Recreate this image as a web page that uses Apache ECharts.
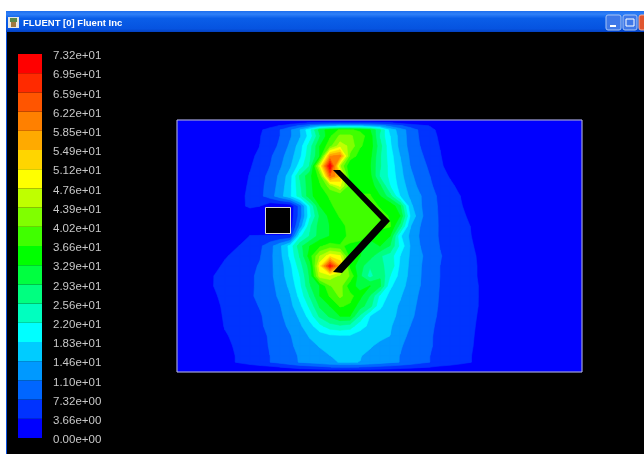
<!DOCTYPE html>
<html>
<head>
<meta charset="utf-8">
<title>FLUENT [0] Fluent Inc</title>
<style>
    html, body { margin: 0; padding: 0; background: #000; }
    #chart { width: 644px; height: 454px; }
</style>
<script src="https://cdn.jsdelivr.net/npm/echarts@6/dist/echarts.min.js"></script>
</head>
<body>
<div id="chart"></div>
<script>
// colour scale, bottom band first
var bandColors = [
    '#0000ff', '#0033ff', '#0066ff', '#0099ff', '#00ccff',
    '#00ffff', '#00ffbf', '#00ff80', '#00ff40', '#00ff00',
    '#40ff00', '#80ff00', '#bfff00', '#ffff00', '#ffd500',
    '#ffaa00', '#ff8000', '#ff5500', '#ff2a00', '#ff0000'
];
var levelValues = [
    0, 3.66, 7.32, 10.98, 14.64, 18.3, 21.96, 25.62, 29.28, 32.94, 36.6,
    40.26, 43.92, 47.58, 51.24, 54.9, 58.56, 62.22, 65.88, 69.54, 73.2
];
var levelLabels = [
    '0.00e+00', '3.66e+00', '7.32e+00', '1.10e+01', '1.46e+01', '1.83e+01', '2.20e+01',
    '2.56e+01', '2.93e+01', '3.29e+01', '3.66e+01', '4.02e+01', '4.39e+01', '4.76e+01',
    '5.12e+01', '5.49e+01', '5.85e+01', '6.22e+01', '6.59e+01', '6.95e+01', '7.32e+01'
];

// sample stations of the field
var stationX = [177, 210, 225, 240, 250, 260, 270, 280, 290, 300, 310, 320, 330, 340, 350, 360, 370, 380, 390, 400, 410, 420, 430, 440, 450, 460, 470, 480, 490, 582];
var stationY = [120, 123, 126, 130, 136, 146, 156, 166, 176, 186, 196, 206, 216, 226, 236, 246, 256, 266, 276, 286, 296, 306, 316, 326, 336, 346, 356, 362, 367, 372];

// velocity, one row per stationY
var velocity = [
    [0,0,0,0,0,0,0,0,0,0,0,0,0,0,0,0,0,0,0,0,0,0,0,0,0,0,0,0,0,0],
    [0,0,0,0,0,0,0,1,2,3,4,4.5,5,5,5,5,5,4.5,4,3,2,1,0,0,0,0,0,0,0,0],
    [0,0,0,0,0,1,2.5,4,6,8,11,13,14,15,15,15,14,12.5,10,8,6,5,3.5,1,0,0,0,0,0,0],
    [0,0,0,0,1.1,3.1,5.2,7.3,10.4,14.6,21,31,35,37,37,36,33,26,17,13,9.5,6.7,4.7,2.7,0.7,0,0,0,0,0],
    [0,0,0,0,1.5,3.5,5.4,7.3,10.4,14.2,20,29,36,41,41,38,35,25,18.3,13.3,9.6,6.9,5,3.1,1,0,0,0,0,0],
    [0,0,0,0,1.7,3.7,5.7,8,11.7,16.4,24,33,39,46,43,37,35,27,19,13.4,9.9,7.3,5.4,3.5,1.5,0,0,0,0,0],
    [0,0,0,0.7,2.7,4.7,6.7,9.5,13,17.4,25,33,58,60,39,35,34,26,20,14.6,10.5,8,5.9,3.9,1.9,0,0,0,0,0],
    [0,0,0,1.3,3.3,5.3,7.3,10.4,13.9,20,26,48,73,44,33,33,33,26,20.5,15.5,11,8.8,6.6,4.3,2.3,0.3,0,0,0,0],
    [0,0,0,2.1,3.9,6,8.3,11.8,16.5,26,32,38,62,55,33,34,34,25,21,16,11.8,9.4,7.3,5.3,3.3,1.3,0,0,0,0],
    [0,0,0,2.3,4.3,6.3,8.8,12.4,17.2,25,32,36,42,48,38,35,35,30,22,16.8,13,9.9,7.8,6,4.5,2.7,0.7,0,0,0],
    [0,0,0,2.7,4.6,6.4,9.2,13.2,17.5,24,32,35,37,37,37,37,37,33,27,18.3,14,11.3,8.6,6.6,5.1,3.7,1.7,0,0,0],
    [0,0,0,3,4.2,3.7,1,0.5,0.5,9,22,33,36,38,39,39,39,36,36,30,15.8,11.4,8.8,6.8,5.4,4.1,2.3,0.3,0,0],
    [0,0,0,1,1.5,0.5,0,0,1,9,21,30,34,37,39,40,39,39,36,33,18.3,11.8,9,6.9,5.7,4.5,3.1,1,0,0],
    [0,0,0,0,0,0,0,0,1,12,25,31,33,35,38,40,39,38,37,28,15,11,8.8,7,5.9,4.8,3.66,1.7,0,0],
    [0,0,0,1.5,3.8,3.9,3.9,3.9,4,21,26,31,33,34,38,39,35,34,33,19,13.9,10.6,8.7,7,6,4.9,3.9,2.1,0.1,0],
    [0,0,1,3.9,5,6.6,9.6,13.8,19.5,28,33,36,38,37,36,34,30,33,29,21,14.6,11,9.2,7.2,6.2,5.2,4.2,2.7,0.7,0],
    [0,0.3,3.3,5,6,7.1,10,13.5,19,26,35,44,50,48,35,33,31,26,24,18.3,14.3,11.6,9.4,7.5,6.5,5.5,4.5,3.1,1,0],
    [0,2.1,4.3,5.7,6.6,7.6,10.1,13,17.2,24,31,50,70,55,35,31,26,26,25,17.6,14,11.3,9.1,7.3,6.4,5.4,4.5,3.3,1.3,0],
    [0,3.3,4.7,5.9,6.8,8,10.1,12.8,16.7,22,30,46,46,43,40,30,24,29,22,16.9,13.8,11.2,9.1,7.3,6.4,5.4,4.5,3.3,1.3,0],
    [0,3.3,4.8,6,6.8,8,9.8,12.2,15.5,21,29,33,40,42,34,32,33,30,19,16,13.4,11,9,7.2,6.3,5.4,4.5,3.5,1.5,0],
    [0,2.7,4.6,6,6.9,8,9.7,11.6,14.3,19.5,26,33,37,41,38,34,29,21,17.2,15,12.7,10.5,8.7,7.1,6.3,5.4,4.5,3.5,1.5,0],
    [0,2.1,4.3,5.6,6.5,7.5,9.2,10.8,13.5,17.4,23,30,33,37,36,31,27,19,16.1,14.2,12.1,10.2,8.5,7,6.1,5.3,4.4,3.5,1.5,0],
    [0,1.7,4.1,5.4,6.2,7,8.5,10.3,12.6,15.4,20,26.5,30,33,33,25,18.3,16.9,15.6,13.9,11.7,9.9,8.1,6.9,6.1,5.2,4.4,3.3,1.3,0],
    [0,1.1,3.9,5.1,5.9,6.9,8.1,9.8,11.7,14.1,17,21,24,25,24,19.5,17.6,16.3,15,13.1,11,9.4,7.8,6.7,5.9,5,4.3,3.1,1,0],
    [0,0.3,3.3,4.8,5.6,6.6,7.6,9.1,10.7,12.9,15,16.5,17.5,17.8,17.8,17,16.3,15.5,14.6,12.2,10.3,8.9,7.6,6.6,5.8,5,4.2,2.9,0.9,0],
    [0,0,2.7,4.6,5.5,6.5,7.5,8.9,10.4,12,13.6,14.9,15.5,16,16,15.7,15,13.8,12.9,11.3,10,8.8,7.6,6.5,5.8,4.9,4.1,2.7,0.7,0],
    [0,0,2.1,4.4,5.3,6.3,7.3,8.7,10,11.3,12.4,13.5,14.6,15,15,14.8,13.8,12.9,12,10.9,9.7,8.5,7.3,6.5,5.7,4.8,3.9,2.3,0.3,0],
    [0,0,2.1,4.4,5.3,6.3,7.3,8.6,10,11.2,12.2,13.1,14.1,14.8,14.8,14.6,13.7,12.8,11.8,10.9,9.7,8.5,7.3,6.5,5.7,4.8,3.9,2.3,0.3,0],
    [0,0,0,1,2,2.5,3,3.7,4.5,5.5,6,6.5,7.3,7.5,7.5,7.3,7,6.5,6,5.3,4.8,4.2,3.7,3,2.5,2,1.5,0,0,0],
    [0,0,0,0,0,0,0,0,0,0,0,0,0,0,0,0,0,0,0,0,0,0,0,0,0,0,0,0,0,0]
];

// solid parts inside the domain
var baffleOutline = [[333, 170], [340, 170], [390, 221], [342, 273], [333, 272], [381, 220]];
var blockOutline = [[265.5, 207.5], [290.5, 207.5], [290.5, 233.5], [265.5, 233.5]];
var domainOutline = [[177, 120], [582, 120], [582, 372], [177, 372]];

// keep the part of a cell where the value is at or over the level
function clipCell(corners, level) {
    var out = [];
    for (var i = 0; i < corners.length; i++) {
        var a = corners[i];
        var b = corners[(i + 1) % corners.length];
        if (a[2] >= level) {
            out.push([a[0], a[1]]);
        }
        if ((a[2] >= level) !== (b[2] >= level)) {
            var t = (level - a[2]) / (b[2] - a[2]);
            out.push([a[0] + t * (b[0] - a[0]), a[1] + t * (b[1] - a[1])]);
        }
    }
    return out;
}

var contourCells = [];
for (var k = 0; k < bandColors.length; k++) {
    for (var r = 0; r < stationY.length - 1; r++) {
        for (var c = 0; c < stationX.length - 1; c++) {
            var corners = [
                [stationX[c], stationY[r], velocity[r][c]],
                [stationX[c + 1], stationY[r], velocity[r][c + 1]],
                [stationX[c + 1], stationY[r + 1], velocity[r + 1][c + 1]],
                [stationX[c], stationY[r + 1], velocity[r + 1][c]]
            ];
            var poly = clipCell(corners, levelValues[k]);
            if (poly.length > 2) {
                contourCells.push({value: [k], poly: poly});
            }
        }
    }
}

var chart = echarts.init(document.getElementById('chart'), null, {renderer: 'canvas'});

function renderContour(params, api) {
    var cell = contourCells[params.dataIndex];
    var color = bandColors[cell.value[0]];
    return {
        type: 'polygon',
        shape: {points: cell.poly.map(function (p) { return api.coord(p); })},
        style: {fill: color, stroke: color, lineWidth: 0.6}
    };
}

function renderOutline(params, api) {
    var item = params.dataIndex === 0 ? baffleOutline : blockOutline;
    return {
        type: 'polygon',
        shape: {points: item.map(function (p) { return api.coord(p); })},
        style: {fill: '#000', stroke: params.dataIndex === 0 ? '#000' : '#d8d8d8', lineWidth: params.dataIndex === 0 ? 0 : 1}
    };
}

function renderFrame(params, api) {
    return {
        type: 'polygon',
        shape: {points: domainOutline.map(function (p) { return api.coord(p); })},
        style: {fill: 'none', stroke: '#c0c0c0', lineWidth: 1}
    };
}

function renderBand(params, api) {
    var k = params.dataIndex;
    var top = api.coord([1, levelValues[k + 1]]);
    var bottom = api.coord([0, levelValues[k]]);
    return {
        type: 'rect',
        shape: {x: bottom[0], y: top[1], width: top[0] - bottom[0], height: bottom[1] - top[1]},
        style: {fill: bandColors[k]}
    };
}

var option = {
    animation: false,
    backgroundColor: '#000',
    grid: [
        {left: 177, top: 120, width: 405, height: 252},
        {left: 18, top: 54, width: 24, height: 384}
    ],
    xAxis: [
        {type: 'value', gridIndex: 0, min: 177, max: 582, show: false},
        {type: 'value', gridIndex: 1, min: 0, max: 1, show: false}
    ],
    yAxis: [
        {type: 'value', gridIndex: 0, min: 120, max: 372, inverse: true, show: false},
        {
            type: 'value', gridIndex: 1, min: 0, max: 73.2, interval: 3.66, position: 'right',
            axisLine: {show: false},
            axisTick: {show: false},
            splitLine: {show: false},
            axisLabel: {
                margin: 11,
                showMinLabel: true,
                showMaxLabel: true,
                rich: {
                    lab: {
                        color: '#c8c8c8',
                        fontFamily: 'Liberation Sans',
                        fontSize: 11.5,
                        padding: [4, 0, 0, 0]
                    }
                },
                formatter: function (v) {
                    return '{lab|' + levelLabels[Math.round(v / 3.66)] + '}';
                }
            }
        }
    ],
    series: [
        {
            type: 'custom', xAxisIndex: 0, yAxisIndex: 0, silent: true, clip: true,
            renderItem: renderContour,
            data: contourCells.map(function (d) { return d.value; })
        },
        {
            type: 'custom', xAxisIndex: 0, yAxisIndex: 0, silent: true, z: 3,
            renderItem: renderOutline,
            data: [[0], [1]]
        },
        {
            type: 'custom', xAxisIndex: 0, yAxisIndex: 0, silent: true, z: 4,
            renderItem: renderFrame,
            data: [[0]]
        },
        {
            type: 'custom', xAxisIndex: 1, yAxisIndex: 1, silent: true,
            renderItem: renderBand,
            data: bandColors.map(function (c, i) { return [i]; })
        }
    ],
    // window frame around the graphics area
    graphic: [
        {type: 'rect', shape: {x: 0, y: 0, width: 644, height: 11}, style: {fill: '#fff'}},
        {type: 'rect', shape: {x: 0, y: 0, width: 6, height: 454}, style: {fill: '#fff'}},
        {type: 'rect', shape: {x: 6, y: 11, width: 1, height: 443}, style: {fill: '#0a4fdc'}},
        {
            type: 'rect', shape: {x: 6, y: 11, width: 638, height: 21},
            style: {
                fill: new echarts.graphic.LinearGradient(0, 0, 0, 1, [
                    {offset: 0, color: '#1f6fee'},
                    {offset: 0.15, color: '#2f80f8'},
                    {offset: 0.35, color: '#0a5ee8'},
                    {offset: 0.85, color: '#0653e0'},
                    {offset: 1, color: '#0340c0'}
                ])
            }
        },
        {type: 'rect', shape: {x: 8, y: 17, width: 11, height: 11}, style: {fill: '#e8e8e0'}},
        {type: 'rect', shape: {x: 10, y: 18, width: 7, height: 4}, style: {fill: '#5a8a4a'}},
        {type: 'rect', shape: {x: 11, y: 22, width: 5, height: 5}, style: {fill: '#a07a40'}},
        {
            type: 'text', x: 23, y: 18,
            style: {text: 'FLUENT [0] Fluent Inc', fill: '#fff', font: 'bold 9.5px "Liberation Sans"'}
        },
        {
            type: 'rect', shape: {x: 606, y: 15, width: 15, height: 15, r: 2},
            style: {fill: '#3f78e8', stroke: '#a8c4f4', lineWidth: 1}
        },
        {type: 'rect', shape: {x: 610, y: 25, width: 6, height: 2}, style: {fill: '#fff'}},
        {
            type: 'rect', shape: {x: 623, y: 15, width: 14, height: 15, r: 2},
            style: {fill: '#3f78e8', stroke: '#a8c4f4', lineWidth: 1}
        },
        {
            type: 'rect', shape: {x: 626, y: 19, width: 8, height: 7},
            style: {fill: 'none', stroke: '#fff', lineWidth: 1}
        },
        {
            type: 'rect', shape: {x: 639, y: 15, width: 10, height: 15, r: 2},
            style: {fill: '#e0552f', stroke: '#f0b0a0', lineWidth: 1}
        }
    ]
};

chart.setOption(option);
</script>
</body>
</html>
